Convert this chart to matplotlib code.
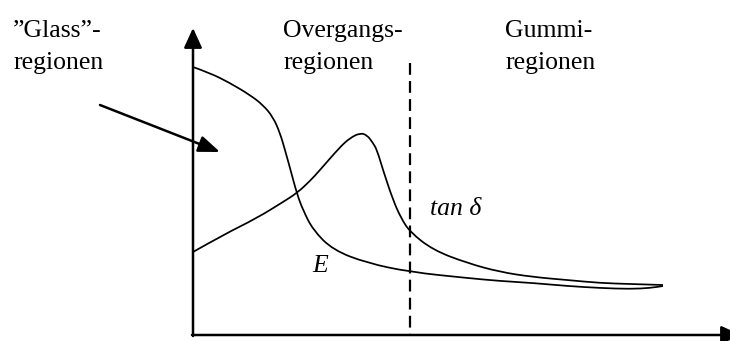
import matplotlib
matplotlib.use("Agg")
import matplotlib.pyplot as plt
from matplotlib.path import Path
from matplotlib.patches import PathPatch

# Schematic curves (x right of the y-axis, y above the x-axis)
e_x = [0, 17, 37, 57, 70, 80, 87, 92, 97, 104, 110, 120, 140, 174, 217, 274, 307, 340, 374, 407, 437, 457, 470]
e_y = [268, 262, 252, 240, 230, 218, 202, 185, 167, 141, 125, 105, 85, 72, 63, 57, 54, 52, 49, 47, 46, 47, 49]

tan_x = [0, 30, 64, 90, 104, 117, 127, 147, 157, 167, 174, 180, 184, 190, 200, 208, 217, 240, 274, 307, 340, 374, 407, 437, 470]
tan_y = [83, 100, 117, 133, 142, 154, 165, 188, 197, 202, 200, 192, 185, 165, 135, 117, 103, 85, 72, 63, 58, 55, 52, 51, 50]

region_labels = ["\u201dGlass\u201d-\nregionen", "Overgangs-\nregionen", "Gummi-\nregionen"]
region_x = [-180, 90, 312]
boundary_x = 217

plt.rcParams["lines.scale_dashes"] = False

fig = plt.figure(figsize=(7.3, 3.41), dpi=100)
ax = fig.add_axes([0, 0, 1, 1])
ax.set_xlim(-193, 537)
ax.set_ylim(-6, 335)
ax.axis("off")

serif = ["Liberation Serif", "DejaVu Serif"]
fs = 18.5


def smooth_curve(xs, ys, **kw):
    """Quadratic B-spline through the read points, drawn as a matplotlib Path."""
    pts = list(zip(xs, ys))
    verts = [pts[0]]
    codes = [Path.MOVETO]
    for i in range(1, len(pts) - 1):
        mid = ((pts[i][0] + pts[i + 1][0]) / 2, (pts[i][1] + pts[i + 1][1]) / 2)
        verts += [pts[i], mid]
        codes += [Path.CURVE3, Path.CURVE3]
    verts.append(pts[-1])
    codes.append(Path.LINETO)
    ax.add_patch(PathPatch(Path(verts, codes), fill=False, **kw))


arrow_kw = dict(arrowstyle="-|>,head_length=1.2,head_width=0.55",
                mutation_scale=10, lw=1.8, color="black", shrinkA=0, shrinkB=0)

# axes with arrows
ax.annotate("", xy=(0, 307), xytext=(0, -1), arrowprops=arrow_kw, annotation_clip=False)
ax.annotate("", xy=(548, 0), xytext=(-1, 0), arrowprops=arrow_kw, annotation_clip=False)

# curves
smooth_curve(e_x, e_y, edgecolor="black", lw=1.25, joinstyle="round")
smooth_curve(tan_x, tan_y, edgecolor="black", lw=1.25, joinstyle="round")

# boundary dashed line
ax.plot([boundary_x, boundary_x], [272, 0], color="black", lw=1.6,
        linestyle=(0, (8.5, 4.5)), dash_capstyle="butt")

# region labels
for lab, x in zip(region_labels, region_x):
    first, second = lab.split("\n")
    ax.text(x, 298, first, family=serif, fontsize=fs, va="baseline", ha="left")
    ax.text(x, 266, second, family=serif, fontsize=fs, va="baseline", ha="left")

# arrow pointing into glass region
ax.annotate("", xy=(27, 183), xytext=(-93, 230),
            arrowprops=dict(arrowstyle="-|>,head_length=1.3,head_width=0.5",
                            mutation_scale=10, lw=1.8, color="black", shrinkA=0, shrinkB=0))

ax.text(119, 63, "E", family=serif, style="italic", fontsize=fs, va="baseline", ha="left")
ax.text(237, 120, "tan \u03b4", family=serif, style="italic", fontsize=fs, va="baseline", ha="left")

fig.savefig("out.png", dpi=100)
